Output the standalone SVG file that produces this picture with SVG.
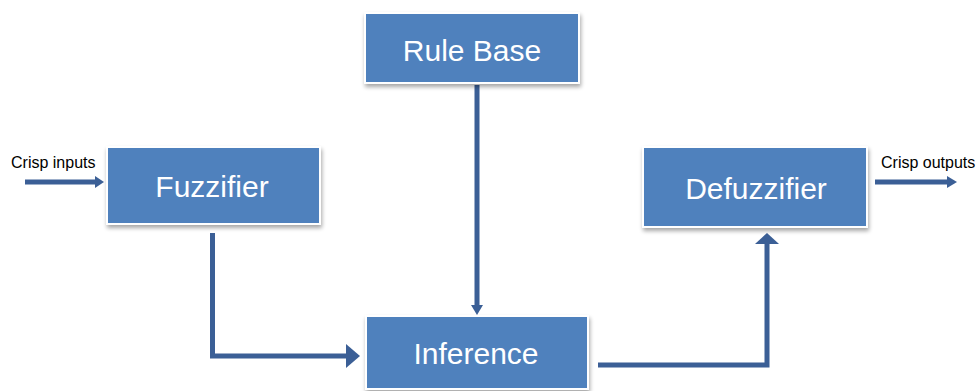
<svg xmlns="http://www.w3.org/2000/svg" width="976" height="391" viewBox="0 0 976 391">
<defs>
<filter id="sh" x="-10%" y="-10%" width="125%" height="130%">
<feGaussianBlur in="SourceAlpha" stdDeviation="2"/>
<feOffset dx="1" dy="3" result="b"/>
<feComponentTransfer><feFuncA type="linear" slope="0.35"/></feComponentTransfer>
<feMerge><feMergeNode/><feMergeNode in="SourceGraphic"/></feMerge>
</filter>
</defs>
<style>
.box{fill:#4F81BD;stroke:#ffffff;stroke-width:2;filter:url(#sh)}
.lbl{font-family:"Liberation Sans",Arial,sans-serif;font-size:30px;fill:#ffffff;text-anchor:middle}
.sm{font-family:"Liberation Sans",Arial,sans-serif;font-size:16px;fill:#000000}
.ln{fill:none;stroke:#3B5F96;stroke-width:5}
.hd{fill:#3B5F96}
</style>
<rect width="976" height="391" fill="#ffffff"/>
<g id="connectors">
<line class="ln" x1="25" y1="182" x2="96" y2="182"/>
<polygon class="hd" points="104,182 95,176 95,188"/>
<polyline class="ln" points="212.5,233 212.5,356 348,356"/>
<polygon class="hd" points="360,356 346,344 346,368"/>
<line class="ln" x1="477" y1="85" x2="477" y2="306"/>
<polygon class="hd" points="477,315 471,305 483,305"/>
<polyline class="ln" points="598,365 767,365 767,242"/>
<polygon class="hd" points="767,233 755,244 779,244"/>
<line class="ln" x1="875" y1="182" x2="948" y2="182"/>
<polygon class="hd" points="957,182 947,176 947,188"/>
</g>
<g id="rulebase">
<rect class="box" x="365" y="13" width="214" height="70"/>
<text class="lbl" x="472" y="61">Rule Base</text>
</g>
<g id="fuzzifier">
<rect class="box" x="107" y="147" width="213" height="77"/>
<text class="lbl" x="212" y="197">Fuzzifier</text>
</g>
<g id="defuzzifier">
<rect class="box" x="643" y="147" width="224" height="80"/>
<text class="lbl" x="756" y="199">Defuzzifier</text>
</g>
<g id="inference">
<rect class="box" x="366" y="316" width="222" height="73"/>
<text class="lbl" x="476" y="364">Inference</text>
</g>
<g id="labels">
<text class="sm" x="11" y="168">Crisp inputs</text>
<text class="sm" x="881" y="168">Crisp outputs</text>
</g>
</svg>
